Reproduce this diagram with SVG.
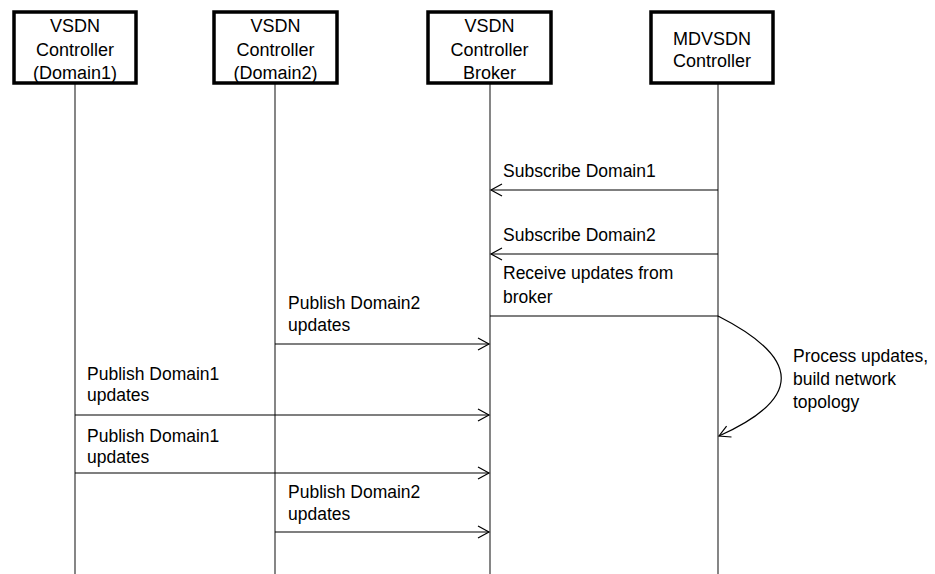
<svg xmlns="http://www.w3.org/2000/svg" width="935" height="574" viewBox="0 0 935 574">
<style>
.box{fill:#fff;stroke:#000;stroke-width:3.5}
.life{stroke:#444;stroke-width:1.3;fill:none}
.msg{stroke:#000;stroke-width:1.2;fill:none}
text{font-family:"Liberation Sans",Arial,sans-serif;font-size:17.5px;fill:#000}
.c{text-anchor:middle;font-size:18px}
</style>
<defs>
<marker id="arr" markerUnits="userSpaceOnUse" markerWidth="14" markerHeight="14" refX="12" refY="7" orient="auto">
<path d="M1,1 L12,7 L1,13" fill="none" stroke="#000" stroke-width="1.2"/>
</marker>
</defs>
<g id="lifelines">
<line class="life" x1="75" y1="83" x2="75" y2="574"/>
<line class="life" x1="275" y1="83" x2="275" y2="574"/>
<line class="life" x1="490" y1="83" x2="490" y2="574"/>
<line class="life" x1="718" y1="83" x2="718" y2="574"/>
</g>
<g id="node-d1">
<rect class="box" x="14" y="12" width="122" height="71"/>
<text class="c" x="75" y="32">VSDN</text>
<text class="c" x="75" y="56">Controller</text>
<text class="c" x="75" y="79">(Domain1)</text>
</g>
<g id="node-d2">
<rect class="box" x="214" y="12" width="123" height="71"/>
<text class="c" x="275.5" y="32">VSDN</text>
<text class="c" x="275.5" y="56">Controller</text>
<text class="c" x="275.5" y="79">(Domain2)</text>
</g>
<g id="node-broker">
<rect class="box" x="428" y="12" width="123" height="71"/>
<text class="c" x="489.5" y="32">VSDN</text>
<text class="c" x="489.5" y="56">Controller</text>
<text class="c" x="489.5" y="79">Broker</text>
</g>
<g id="node-mdvsdn">
<rect class="box" x="651" y="12" width="122" height="71"/>
<text class="c" x="712" y="45">MDVSDN</text>
<text class="c" x="712" y="67">Controller</text>
</g>
<g id="connectors">
<line class="msg" x1="718" y1="190" x2="491" y2="190" marker-end="url(#arr)"/>
<line class="msg" x1="718" y1="254" x2="491" y2="254" marker-end="url(#arr)"/>
<line class="msg" x1="490" y1="316" x2="718" y2="316"/>
<path class="msg" d="M718,316 Q844,380 719,436" marker-end="url(#arr)"/>
<line class="msg" x1="275" y1="344" x2="489" y2="344" marker-end="url(#arr)"/>
<line class="msg" x1="75" y1="415" x2="489" y2="415" marker-end="url(#arr)"/>
<line class="msg" x1="75" y1="473" x2="489" y2="473" marker-end="url(#arr)"/>
<line class="msg" x1="275" y1="532" x2="489" y2="532" marker-end="url(#arr)"/>
</g>
<g id="labels">
<text x="503" y="177">Subscribe Domain1</text>
<text x="503" y="241">Subscribe Domain2</text>
<text x="503" y="279">Receive updates from</text>
<text x="503" y="303">broker</text>
<text x="793" y="362">Process updates,</text>
<text x="793" y="385">build network</text>
<text x="793" y="408">topology</text>
<text x="288" y="309">Publish Domain2</text>
<text x="288" y="331">updates</text>
<text x="87" y="380">Publish Domain1</text>
<text x="87" y="401">updates</text>
<text x="87" y="442">Publish Domain1</text>
<text x="87" y="463">updates</text>
<text x="288" y="498">Publish Domain2</text>
<text x="288" y="520">updates</text>
</g>
</svg>
